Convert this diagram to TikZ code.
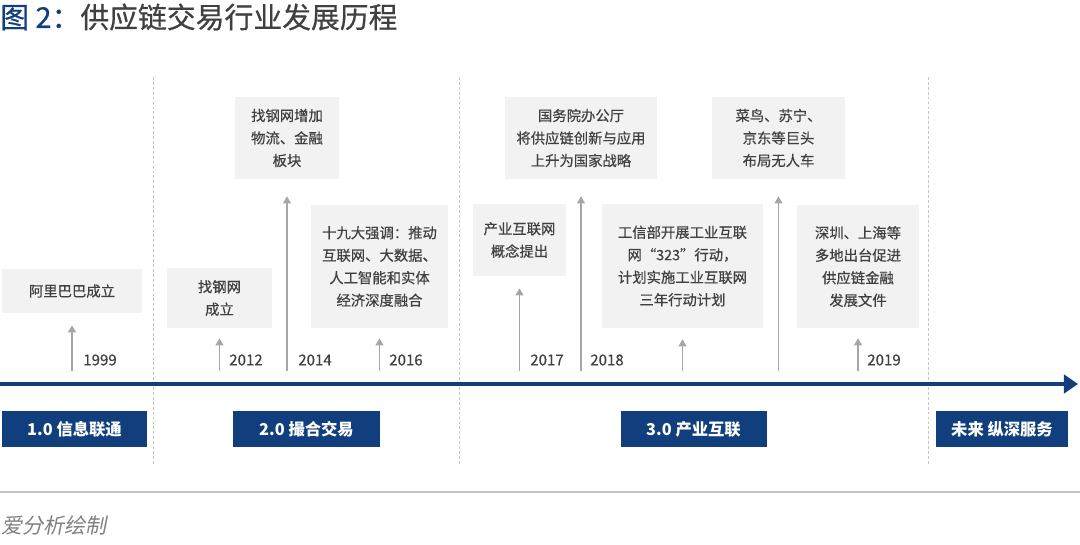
\documentclass[tikz,border=0pt]{standalone}
\usepackage{fontspec}
\setmainfont{Noto Sans CJK SC}
\newfontfamily\notecjk[FakeSlant=0.2]{Noto Sans CJK SC}
\newfontfamily\medcjk[FakeBold=0.5]{Noto Sans CJK SC}
\usetikzlibrary{arrows.meta}
\newlength\px
\setlength\px{0.025cm}
\definecolor{navy}{RGB}{17,63,125}
\definecolor{boxgray}{RGB}{242,242,242}
\definecolor{txtgray}{RGB}{64,64,64}
\definecolor{arrgray}{RGB}{166,166,166}
\definecolor{dashgray}{RGB}{196,196,196}

\begin{document}
\begin{tikzpicture}[x=\px,y=-\px,
 evt/.style={fill=boxgray,text=txtgray,align=center,inner sep=0pt,font=\medcjk\fontsize{10.2}{16}\selectfont},
 phase/.style={fill=navy,text=white,inner sep=0pt,minimum height=36\px,font=\fontsize{11.6}{14}\selectfont\bfseries},
 yr/.style={text=txtgray,inner sep=0pt,font=\medcjk\fontsize{10.7}{13}\selectfont},
 up/.style={draw=arrgray,line width=1.1pt,-{Triangle[width=5.5pt,length=5pt]}},
 divider/.style={draw=dashgray,line width=0.7pt,dash pattern=on 2pt off 1.5pt}]
 \useasboundingbox (0,0) rectangle (1080,545);
 \node[anchor=west,inner sep=0pt,font=\medcjk\fontsize{20.5}{24}\selectfont] (title) at (0,17) {\textcolor{navy}{图 2：}\textcolor{txtgray}{供应链交易行业发展历程}};
 \draw[divider] (153,77) -- (153,465);
 \draw[divider] (459,77) -- (459,465);
 \draw[divider] (928,77) -- (928,465);
 \coordinate (t0) at (0,384);
 \coordinate (t1) at (1078,384);
 \draw[navy,line width=3pt,-{Triangle[width=13pt,length=10pt]}] (t0) -- (t1);
 \node[evt,minimum width=140\px,minimum height=44\px] (ali) at (72,291) {阿里巴巴成立};
 \node[evt,minimum width=105\px,minimum height=60\px] (zgw) at (219.5,298) {找钢网\\成立};
 \node[evt,minimum width=104\px,minimum height=82\px] (zgwadd) at (287,138) {找钢网增加\\物流、金融\\板块};
 \node[evt,minimum width=137\px,minimum height=123\px] (sjd) at (379.5,266.5) {十九大强调：推动\\互联网、大数据、\\人工智能和实体\\经济深度融合};
 \node[evt,minimum width=93\px,minimum height=72\px] (cyhl) at (519.5,240) {产业互联网\\概念提出};
 \node[evt,minimum width=152\px,minimum height=82\px] (gwy) at (581,138) {国务院办公厅\\将供应链创新与应用\\上升为国家战略};
 \node[evt,minimum width=161\px,minimum height=124\px] (gxb) at (682.5,266) {工信部开展工业互联\\网“323”行动，\\计划实施工业互联网\\三年行动计划};
 \node[evt,minimum width=133\px,minimum height=82\px] (cainiao) at (778.5,138) {菜鸟、苏宁、\\京东等巨头\\布局无人车};
 \node[evt,minimum width=122\px,minimum height=123\px] (sz) at (858,266.5) {深圳、上海等\\多地出台促进\\供应链金融\\发展文件};
 \coordinate (a1) at (ali.south |- 0,371);
 \coordinate (a2) at (zgw.south |- 0,371);
 \coordinate (a3) at (zgwadd.south |- 0,371);
 \coordinate (a4) at (sjd.south |- 0,371);
 \coordinate (a5) at (cyhl.south |- 0,371);
 \coordinate (a6) at (gwy.south |- 0,371);
 \coordinate (a7) at (gxb.south |- 0,371);
 \coordinate (a8) at (cainiao.south |- 0,371);
 \coordinate (a9) at (sz.south |- 0,371);
 \draw[up,shorten >=12\px] (a1) -- (ali);
 \draw[up,shorten >=10\px] (a2) -- (zgw);
 \draw[up,shorten >=17\px] (a3) -- (zgwadd);
 \draw[up,shorten >=10\px] (a4) -- (sjd);
 \draw[up,shorten >=12\px] (a5) -- (cyhl);
 \draw[up,shorten >=17\px] (a6) -- (gwy);
 \draw[up,shorten >=11\px] (a7) -- (gxb);
 \draw[up,shorten >=17\px] (a8) -- (cainiao);
 \draw[up,shorten >=10\px] (a9) -- (sz);
 \node[yr] (y1999) at (100,360) {1999};
 \node[yr] (y2012) at (246,360) {2012};
 \node[yr] (y2014) at (315,360) {2014};
 \node[yr] (y2016) at (406,360) {2016};
 \node[yr] (y2017) at (547,360) {2017};
 \node[yr] (y2018) at (607,360) {2018};
 \node[yr] (y2019) at (884,360) {2019};
 \node[phase,minimum width=145\px] (p1) at (74.5,429) {1.0 信息联通};
 \node[phase,minimum width=147\px] (p2) at (306.5,429) {2.0 撮合交易};
 \node[phase,minimum width=146\px] (p3) at (693.5,429) {3.0 产业互联};
 \node[phase,minimum width=132\px] (p4) at (1002,429) {未来 纵深服务};
 \draw[dashgray,line width=1.1pt] (0,492) -- (1080,492);
 \node[anchor=west,inner sep=0pt,text={rgb,255:red,128;green,128;blue,128},font=\notecjk\fontsize{15}{18}\selectfont] (src) at (1,525) {爱分析绘制};
\end{tikzpicture}
\end{document}
